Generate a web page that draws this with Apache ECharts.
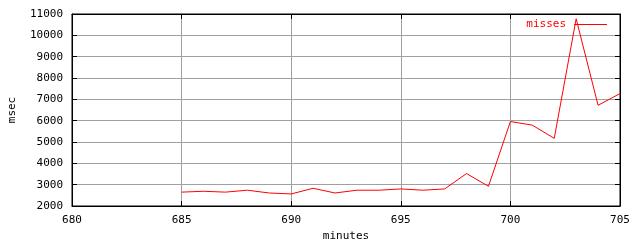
<!DOCTYPE html>
<html><head><meta charset="utf-8">
<script src="https://cdn.jsdelivr.net/npm/echarts@6/dist/echarts.min.js"></script>
<style>html,body{margin:0;padding:0;background:#fff}#c{width:640px;height:240px}</style>
</head><body><div id="c"></div>
<script>
const minutes = [685,686,687,688,689,690,691,692,693,694,695,696,697,698,699,700,701,702,703,704,705];
const misses  = [2650,2690,2650,2740,2610,2565,2830,2610,2740,2740,2800,2740,2800,3520,2925,5960,5790,5170,10775,6720,7270];
const xTicks = [680,685,690,695,700,705];
const yTicks = [2000,3000,4000,5000,6000,7000,8000,9000,10000,11000];
const seriesName = 'misses';

const font = 'DejaVu Sans Mono';
const chart = echarts.init(document.getElementById('c'), null, {renderer:'canvas'});
const tick = {show:true, inside:true, length:5, lineStyle:{color:'#000', width:1}};
const plain = v => String(v);
chart.setOption({
  animation:false,
  backgroundColor:'#fff',
  textStyle:{fontFamily:font, fontSize:11, color:'#000'},
  grid:{left:72, right:20, top:14, bottom:34, show:true, borderColor:'#000', borderWidth:1,
        containLabel:false, outerBoundsMode:'none'},
  legend:{
    show:true, right:28, top:14, align:'right', itemWidth:33, itemHeight:1, icon:'rect',
    itemGap:0, itemStyle:{color:'#ff0000', borderWidth:0}, lineStyle:{color:'#ff0000'},
    textStyle:{color:'#ff0000', fontFamily:font, fontSize:11, padding:[0,3,0,0]},
    data:[{name:seriesName, itemStyle:{color:'#ff0000'}}]
  },
  xAxis:[{
    type:'value', min:xTicks[0], max:xTicks[xTicks.length-1], interval:5, position:'bottom',
    name:'minutes', nameLocation:'middle', nameGap:21,
    nameTextStyle:{fontFamily:font, fontSize:11, color:'#000'},
    axisLine:{show:true, lineStyle:{color:'#000'}}, axisTick:tick,
    axisLabel:{margin:9, fontFamily:font, fontSize:11, color:'#000', formatter:plain},
    splitLine:{show:true, lineStyle:{color:'#a0a0a0', width:1}}
  },{
    type:'value', min:xTicks[0], max:xTicks[xTicks.length-1], interval:5, position:'top',
    axisLine:{show:true, lineStyle:{color:'#000'}}, axisTick:tick, axisLabel:{show:false}, splitLine:{show:false}
  }],
  yAxis:[{
    type:'value', min:yTicks[0], max:yTicks[yTicks.length-1], interval:1000, position:'left',
    name:'msec', nameLocation:'middle', nameGap:54, nameRotate:90,
    nameTextStyle:{fontFamily:font, fontSize:11, color:'#000'},
    axisLine:{show:true, lineStyle:{color:'#000'}}, axisTick:tick,
    axisLabel:{margin:9, fontFamily:font, fontSize:11, color:'#000', formatter:plain},
    splitLine:{show:true, lineStyle:{color:'#a0a0a0', width:1}}
  },{
    type:'value', min:yTicks[0], max:yTicks[yTicks.length-1], interval:1000, position:'right',
    axisLine:{show:true, lineStyle:{color:'#000'}}, axisTick:tick, axisLabel:{show:false}, splitLine:{show:false}
  }],
  series:[{
    name:seriesName, type:'line', showSymbol:false, symbol:'none',
    lineStyle:{color:'#ff0000', width:1}, itemStyle:{color:'#ff0000'},
    data: minutes.map((m,i)=>[m, misses[i]])
  }]
});
</script></body></html>
